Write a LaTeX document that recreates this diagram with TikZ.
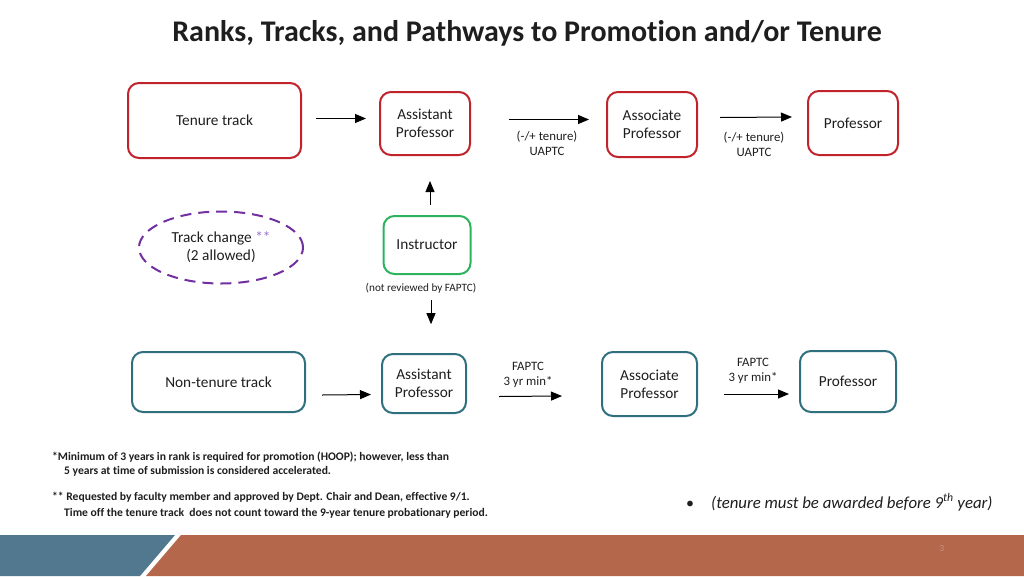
\documentclass[tikz,border=0pt]{standalone}
\usepackage{fontspec}
\setmainfont{Carlito}[Ligatures=NoCommon]
\usetikzlibrary{arrows.meta,calc,shapes.geometric}
\definecolor{tred}{HTML}{C0232B}
\definecolor{tteal}{HTML}{2F6F7E}
\definecolor{tgreen}{HTML}{2DB35E}
\definecolor{tpurple}{HTML}{7030A0}
\definecolor{tlpurple}{HTML}{9570D0}
\definecolor{tblue}{HTML}{52788F}
\definecolor{torange}{HTML}{B4674A}
\definecolor{ttext}{HTML}{1E1E1E}
\begin{document}
\begin{tikzpicture}[x=1pt,y=-1pt,
  box/.style={draw, rounded corners=11pt, line width=2pt, align=center, inner sep=0pt, text=ttext,
    font=\fontsize{15.3}{18}\selectfont},
  redbox/.style={box, draw=tred},
  tealbox/.style={box, draw=tteal},
  arr/.style={-{Triangle[length=11pt,width=9pt]}, line width=1pt, black},
  lbl/.style={align=center, text=ttext, font=\fontsize{12.8}{15}\selectfont, inner sep=0pt}
]
\useasboundingbox (0,0) rectangle (1024,576);
% title
\node[font=\bfseries\fontsize{30}{34}\selectfont, text=ttext] (title) at (527,33) {Ranks, Tracks, and Pathways to Promotion and/or Tenure};

% tenure row
\node[redbox, minimum width=173, minimum height=75] (tt) at (214.5,120.5) {Tenure track};
\node[redbox, minimum width=90, minimum height=63] (ap1) at (425,123.5) {Assistant\\Professor};
\node[redbox, minimum width=90, minimum height=65] (ac1) at (652,124.5) {Associate\\Professor};
\node[redbox, minimum width=90, minimum height=64] (pr1) at (853,123) {Professor};

\draw[arr] ($(tt.east)+(14,-2)$) -- ($(ap1.west)+(-13,-5)$);
\draw[arr] ($(ap1.east)+(38,-4)$) -- ($(ac1.west)+(-17,-5)$);
\draw[arr] ($(ac1.east)+(22,-7)$) -- ($(pr1.west)+(-15,-6)$);
\node[lbl] (l1) at (547,143) {(-/+ tenure)\\UAPTC};
\node[lbl] (l2) at (754,144) {(-/+ tenure)\\UAPTC};

% middle
\node[box, draw=tgreen, minimum width=87, minimum height=58] (ins) at (427,245) {Instructor};
\node[lbl, font=\fontsize{11.2}{13}\selectfont] (nr) at (421,288) {(not reviewed by FAPTC)};
\draw[arr] ($(ins.north)+(3,-10)$) -- ($(ap1.south)+(5,25)$);
\draw[arr] ($(nr.south)+(10,7)$) -- ($(nr.south)+(10,31)$);

\node[ellipse, draw=tpurple, dashed, dash pattern=on 11pt off 7pt, line width=2pt,
      minimum width=164, minimum height=72, align=center, text=ttext,
      font=\fontsize{15.3}{18}\selectfont] (tc) at (221,247.5)
      {Track change \textcolor{tlpurple}{**}\\(2 allowed)};

% non-tenure row
\node[tealbox, minimum width=173, minimum height=60] (nt) at (218.5,382) {Non-tenure track};
\node[tealbox, minimum width=84, minimum height=59] (ap2) at (424,383.5) {Assistant\\Professor};
\node[tealbox, minimum width=95, minimum height=64] (ac2) at (649.5,384) {Associate\\Professor};
\node[tealbox, minimum width=96, minimum height=61] (pr2) at (848,381.5) {Professor};

\draw[arr] ($(nt.east)+(16,13)$) -- ($(ap2.west)+(-10,11)$);
\draw[arr] ($(ap2.east)+(32,13)$) -- ($(ac2.west)+(-39,12)$);
\draw[arr] ($(ac2.east)+(26,10)$) -- ($(pr2.west)+(-10,12.5)$);
\node[lbl] (l3) at (528,374.5) {FAPTC\\3 yr min*};
\node[lbl] (l4) at (753,370.5) {FAPTC\\3 yr min*};

% footnotes
\begin{scope}[every node/.style={anchor=base west, inner sep=0pt, text=ttext, font=\bfseries\fontsize{11.6}{13}\selectfont}]
\node (f1) at (52,460.5) {*Minimum of 3 years in rank is required for promotion (HOOP); however, less than};
\node (f2) at (64,474.5) {5 years at time of submission is considered accelerated.};
\node (f3) at (52,500.5) {** Requested by faculty member and approved by Dept. Chair and Dean, effective 9/1.};
\node (f4) at (64,516.5) {Time off the tenure track\ \ does not count toward the 9-year tenure probationary period.};
\end{scope}

\node[anchor=base west, inner sep=0pt, text=ttext, font=\fontsize{16}{18}\selectfont] (bul) at (686,508) {•};
\node[anchor=base west, inner sep=0pt, text=ttext, font=\itshape\fontsize{16.8}{19}\selectfont] (tn) at (711,508)
  {(tenure must be awarded before 9\textsuperscript{th} year)};

% bottom band
\fill[tblue] (0,535) -- (175,535) -- (140,576) -- (0,576) -- cycle;
\fill[torange] (181,535) -- (1024,535) -- (1024,576) -- (146,576) -- cycle;
\node[text=torange!70!white, font=\fontsize{9}{10}\selectfont] (pg) at (942,549) {3};
\end{tikzpicture}
\end{document}
